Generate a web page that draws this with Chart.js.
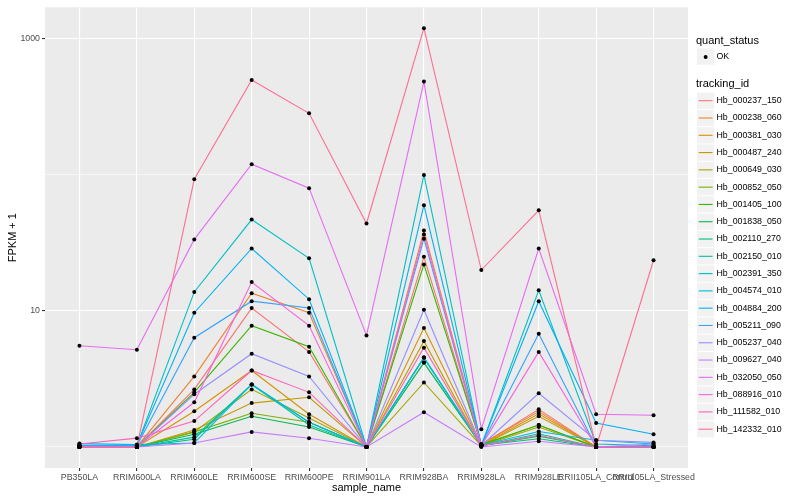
<!DOCTYPE html>
<html><head><meta charset="utf-8">
<script src="https://cdn.jsdelivr.net/npm/chart.js@4"></script>
<style>html,body{margin:0;padding:0;background:#fff}</style>
</head><body>
<canvas id="c" width="800" height="500"></canvas>
<script>
const categories = ["PB350LA","RRIM600LA","RRIM600LE","RRIM600SE","RRIM600PE","RRIM901LA","RRIM928BA","RRIM928LA","RRIM928LE","RRII105LA_Control","RRII105LA_Stressed"];
const trackingIds = ["Hb_000237_150","Hb_000238_060","Hb_000381_030","Hb_000487_240","Hb_000649_030","Hb_000852_050","Hb_001405_100","Hb_001838_050","Hb_002110_270","Hb_002150_010","Hb_002391_350","Hb_004574_010","Hb_004884_200","Hb_005211_090","Hb_005237_040","Hb_009627_040","Hb_032050_050","Hb_088916_010","Hb_111582_010","Hb_142332_010"];
const seriesColors = ["#F8766D","#EA8331","#D89000","#C09B00","#A3A500","#7CAE00","#39B600","#00BB4E","#00BF7D","#00C1A3","#00BFC4","#00BAE0","#00B0F6","#35A2FF","#9590FF","#C77CFF","#E76BF3","#FA62DB","#FF62BC","#FF6C91"];

// FPKM + 1 per sample, in category order
const hb_000237_150 = [1.00, 1.00, 2.65, 10.5, 5.0, 1.00, 25, 1.04, 1.89, 1.00, 1.00];
const hb_000238_060 = [1.00, 1.00, 3.3, 13.5, 9.7, 1.00, 39, 1.05, 1.82, 1.00, 1.00];
const hb_000381_030 = [1.00, 1.00, 1.83, 3.65, 1.74, 1.00, 7.5, 1.03, 1.75, 1.00, 1.00];
const hb_000487_240 = [1.00, 1.00, 1.33, 2.1, 2.32, 1.00, 6.0, 1.02, 1.68, 1.00, 1.00];
const hb_000649_030 = [1.00, 1.00, 1.29, 2.65, 1.63, 1.00, 2.98, 1.02, 1.40, 1.00, 1.00];
const hb_000852_050 = [1.00, 1.00, 1.29, 1.77, 1.52, 1.00, 4.17, 1.03, 1.45, 1.00, 1.00];
const hb_001405_100 = [1.00, 1.00, 2.52, 7.8, 5.46, 1.00, 22, 1.04, 1.45, 1.00, 1.00];
const hb_001838_050 = [1.00, 1.00, 1.24, 1.68, 1.40, 1.00, 4.54, 1.02, 1.20, 1.00, 1.00];
const hb_002110_270 = [1.00, 1.00, 1.14, 2.88, 1.52, 1.00, 4.17, 1.03, 1.15, 1.00, 1.00];
const hb_002150_010 = [1.00, 1.00, 1.18, 2.88, 1.45, 1.00, 4.54, 1.02, 1.25, 1.00, 1.00];
const hb_002391_350 = [1.03, 1.02, 13.8, 47, 24.4, 1.00, 100, 1.02, 14.2, 1.05, 1.02];
const hb_004574_010 = [1.06, 1.04, 1.07, 2.88, 1.52, 1.00, 4.54, 1.03, 1.30, 1.12, 1.05];
const hb_004884_200 = [1.03, 1.03, 9.7, 28.8, 12.2, 1.00, 60, 1.03, 11.8, 1.50, 1.24];
const hb_005211_090 = [1.02, 1.02, 6.36, 11.8, 10.5, 1.00, 34, 1.03, 6.8, 1.00, 1.00];
const hb_005237_040 = [1.00, 1.00, 2.44, 4.85, 3.3, 1.00, 10.2, 1.02, 2.48, 1.12, 1.08];
const hb_009627_040 = [1.00, 1.00, 1.07, 1.29, 1.16, 1.00, 1.8, 1.00, 1.10, 1.00, 1.05];
const hb_032050_050 = [5.55, 5.19, 33.6, 120, 80, 6.6, 486, 1.35, 28.8, 1.74, 1.71];
const hb_088916_010 = [1.00, 1.00, 2.13, 16.3, 7.8, 1.00, 36.5, 1.02, 5.0, 1.00, 1.00];
const hb_111582_010 = [1.05, 1.16, 1.55, 3.65, 2.52, 1.00, 5.37, 1.02, 1.22, 1.00, 1.00];
const hb_142332_010 = [1.00, 1.00, 93, 500, 284, 44, 1200, 20, 55, 1.00, 23.6];

const seriesValues = [hb_000237_150,hb_000238_060,hb_000381_030,hb_000487_240,hb_000649_030,hb_000852_050,hb_001405_100,hb_001838_050,hb_002110_270,hb_002150_010,hb_002391_350,hb_004574_010,hb_004884_200,hb_005211_090,hb_005237_040,hb_009627_040,hb_032050_050,hb_088916_010,hb_111582_010,hb_142332_010];

const yBreaks = [1, 10, 100, 1000];
const yLabeled = [10, 1000];

const FONT = '"Liberation Sans", Arial, Helvetica, sans-serif';
Chart.defaults.font.family = FONT;

// ggplot-like 5% expansion on log scale
const allVals = seriesValues.flat();
const lmin = Math.log10(Math.min(...allVals)), lmax = Math.log10(Math.max(...allVals));
const ex = (lmax - lmin) * 0.05;
const yMin = Math.pow(10, lmin - ex), yMax = Math.pow(10, lmax + ex);

const datasets = seriesValues.map((vals, i) => ({
  label: trackingIds[i],
  data: vals.map((v, j) => ({x: j, y: v})),
  borderColor: seriesColors[i],
  backgroundColor: seriesColors[i],
  borderWidth: 1.1,
  pointRadius: 0,
  pointHoverRadius: 0,
  fill: false,
  tension: 0,
  order: seriesValues.length - 1 - i
}));

const bgPlugin = {
  id: 'bg',
  beforeDraw(chart) {
    const {ctx, chartArea: a} = chart;
    ctx.save();
    ctx.fillStyle = '#FFFFFF';
    ctx.fillRect(0, 0, chart.width, chart.height);
    ctx.fillStyle = '#EBEBEB';
    ctx.fillRect(a.left, a.top, a.right - a.left, a.bottom - a.top);
    ctx.restore();
  }
};

const pointsPlugin = {
  id: 'pts',
  afterDatasetsDraw(chart) {
    const ctx = chart.ctx;
    ctx.save();
    ctx.fillStyle = '#000000';
    chart.data.datasets.forEach((ds, i) => {
      chart.getDatasetMeta(i).data.forEach(pt => {
        ctx.beginPath();
        ctx.arc(pt.x, pt.y, 2, 0, Math.PI * 2);
        ctx.fill();
      });
    });
    ctx.restore();
  }
};

const legendPlugin = {
  id: 'ggLegend',
  afterDraw(chart) {
    const ctx = chart.ctx;
    const kx = 697, kw = 17.28;
    ctx.save();
    ctx.textBaseline = 'middle';
    ctx.textAlign = 'left';
    ctx.fillStyle = '#000';
    ctx.font = '11px ' + FONT;
    ctx.fillText('quant_status', 696, 41);
    ctx.fillStyle = '#F2F2F2';
    ctx.fillRect(kx, 48.4, kw, kw - 1);
    ctx.fillStyle = '#000';
    ctx.beginPath(); ctx.arc(kx + kw / 2, 57, 2, 0, Math.PI * 2); ctx.fill();
    ctx.font = '8.8px ' + FONT;
    ctx.fillText('OK', 716.5, 57);
    ctx.font = '11px ' + FONT;
    ctx.fillText('tracking_id', 696, 84);
    ctx.font = '8.8px ' + FONT;
    chart.data.datasets.forEach((ds, i) => {
      const cy = 100.7 + i * 17.29;
      ctx.fillStyle = '#F2F2F2';
      ctx.fillRect(kx, cy - 8.1, kw, kw - 1);
      ctx.strokeStyle = ds.borderColor;
      ctx.lineWidth = 1.1;
      ctx.beginPath(); ctx.moveTo(kx + 1.7, cy); ctx.lineTo(kx + kw - 1.7, cy); ctx.stroke();
      ctx.fillStyle = '#000';
      ctx.fillText(ds.label, 716.5, cy);
    });
    ctx.restore();
  }
};

new Chart(document.getElementById('c'), {
  type: 'line',
  data: { datasets },
  plugins: [bgPlugin, pointsPlugin, legendPlugin],
  options: {
    responsive: false,
    animation: false,
    devicePixelRatio: 1,
    layout: { padding: { top: 5, right: 112, left: 0, bottom: 0 } },
    plugins: { legend: { display: false }, tooltip: { enabled: false } },
    scales: {
      x: {
        type: 'linear',
        min: -0.6,
        max: categories.length - 1 + 0.6,
        afterBuildTicks: s => { s.ticks = categories.map((_, i) => ({ value: i })); },
        afterFit: s => { s.height = 32; },
        ticks: {
          autoSkip: false, maxRotation: 0, minRotation: 0, padding: 1,
          color: '#4D4D4D', font: { size: 8.8 },
          callback: v => categories[v] !== undefined ? categories[v] : ''
        },
        grid: { color: '#FFFFFF', lineWidth: 1.1, tickColor: '#333333', tickLength: 3 },
        border: { display: false },
        title: { display: true, text: 'sample_name', color: '#000', font: { size: 11 }, padding: { top: 0, bottom: 5 } }
      },
      y: {
        type: 'logarithmic',
        min: yMin,
        max: yMax,
        afterBuildTicks: s => { s.ticks = yBreaks.map(v => ({ value: v })); },
        afterFit: s => { s.width = 45; },
        ticks: {
          autoSkip: false, padding: 2,
          color: '#4D4D4D', font: { size: 8.8 },
          callback: v => yLabeled.includes(v) ? String(v) : ''
        },
        grid: {
          color: '#FFFFFF',
          lineWidth: c => (c.tick && yLabeled.includes(c.tick.value)) ? 1.1 : 0.55,
          tickColor: c => (c.tick && yLabeled.includes(c.tick.value)) ? '#333333' : 'rgba(0,0,0,0)',
          tickLength: 3
        },
        border: { display: false },
        title: { display: true, text: 'FPKM + 1', color: '#000', font: { size: 11 }, padding: { top: 6, bottom: 0 } }
      }
    }
  }
});
</script>
</body></html>
